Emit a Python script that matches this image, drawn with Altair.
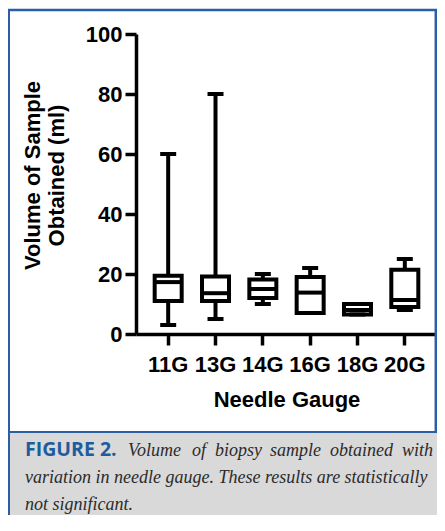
import altair as alt
import pandas as pd

# ---- data ----
gauges = ["11G", "13G", "14G", "16G", "18G", "20G"]
whisker_min = [3, 5, 10, 7, 6.5, 8]
q1 = [11, 11, 12, 7, 6.5, 9]
median = [17.3, 13.6, 15, 13.8, 8, 11.3]
q3 = [19.4, 19.2, 18.2, 19, 10, 21.4]
whisker_max = [60, 80, 20, 22, 10, 25]

y_ticks = [0, 20, 40, 60, 80, 100]
y_title = ["Volume of Sample", "Obtained (ml)"]
x_title = "Needle Gauge"
caption_label = "FIGURE 2."
caption_line1_words = ["Volume", "of", "biopsy", "sample", "obtained", "with"]
caption_line1_x = [128, 192, 215, 270, 330, 402]  # justified word starts (page px)
caption_line2 = "variation in needle gauge. These results are statistically"
caption_line3 = "not significant."

df = pd.DataFrame({
    "gauge": gauges,
    "lo": whisker_min,
    "q1": q1,
    "med": median,
    "q3": q3,
    "hi": whisker_max,
})
dec = pd.DataFrame({"k": [0]})

PW, PH = 301, 300
TOTAL_W, TOTAL_H = 429, 507
BLUE = "#2a5fa5"
FONT = "Liberation Sans"

x_scale = alt.Scale(domain=gauges, paddingInner=0.3, paddingOuter=0.33)
y_scale = alt.Scale(domain=[0, 100], nice=False)

x_axis = alt.Axis(title=x_title, labelAngle=0, tickSize=11, labelPadding=9,
                  titlePadding=14)
y_axis = alt.Axis(title=y_title, values=y_ticks, grid=False, tickSize=11,
                  labelPadding=3, titleX=-92, titleY=141, titleLineHeight=24,
                  titleAngle=270, titleBaseline="bottom", titleAlign="center")


def X():
    return alt.X("gauge:N", scale=x_scale, sort=gauges, axis=x_axis)


def Y(field):
    return alt.Y(field, type="quantitative", scale=y_scale, axis=y_axis)


whisker = alt.Chart(df).mark_rule(color="black", strokeWidth=4).encode(
    x=X(), y=Y("lo"), y2="hi:Q")
box = alt.Chart(df).mark_bar(fill="white", stroke="black", strokeWidth=4,
                             size=27).encode(x=X(), y=Y("q1"), y2="q3:Q")
med = alt.Chart(df).mark_tick(color="black", thickness=4, size=27,
                              opacity=1).encode(x=X(), y=Y("med"))
cap_lo = alt.Chart(df).mark_tick(color="black", thickness=4, size=16,
                                 opacity=1).encode(x=X(), y=Y("lo"))
cap_hi = alt.Chart(df).mark_tick(color="black", thickness=4, size=16,
                                 opacity=1).encode(x=X(), y=Y("hi"))

# ---- frame & caption decorations (positions relative to plot origin) ----
ox, oy = 136, 34  # plot origin on the page
gray = alt.Chart(dec).mark_rect(color="#d9d9d9").encode(
    x=alt.value(7 - ox), x2=alt.value(450 - ox),
    y=alt.value(433 - oy), y2=alt.value(540 - oy))
top_line = alt.Chart(dec).mark_rule(color=BLUE, strokeWidth=2.5).encode(
    x=alt.value(7 - ox), x2=alt.value(450 - ox), y=alt.value(10 - oy))
div_line = alt.Chart(dec).mark_rule(color=BLUE, strokeWidth=2).encode(
    x=alt.value(7 - ox), x2=alt.value(450 - ox), y=alt.value(432 - oy))
left_line = alt.Chart(dec).mark_rule(color=BLUE, strokeWidth=3).encode(
    x=alt.value(8.5 - ox), y=alt.value(9 - oy), y2=alt.value(540 - oy))
right_line = alt.Chart(dec).mark_rule(color=BLUE, strokeWidth=2.5).encode(
    x=alt.value(435.8 - ox), y=alt.value(9 - oy), y2=alt.value(432 - oy))


def cap_text(txt, px, py, align="left", **kw):
    style = dict(font="Liberation Serif", fontStyle="italic", fontSize=18,
                 color="#2b2b2b")
    style.update(kw)
    return alt.Chart(dec).mark_text(text=txt, align=align,
                                    baseline="alphabetic", **style).encode(
        x=alt.value(px - ox), y=alt.value(py - oy))


L1, L2, L3 = 456, 483, 510
texts = [cap_text(caption_label, 25, L1, font="Open Sans", fontStyle="normal",
                  fontWeight="bold", fontSize=19.5, color="#1d5c9e")]
texts += [cap_text(w, px, L1) for w, px in zip(caption_line1_words,
                                               caption_line1_x)]
texts += [cap_text(caption_line2, 25, L2), cap_text(caption_line3, 25, L3)]

chart = alt.layer(
    gray, top_line, div_line, left_line, right_line,
    whisker, box, med, cap_lo, cap_hi,
    *texts,
).properties(
    width=PW, height=PH,
    padding={"left": 128, "top": 26, "right": TOTAL_W - 128 - PW,
             "bottom": TOTAL_H - 26 - PH},
    autosize=alt.AutoSizeParams(type="none"),
).configure_view(stroke=None).configure_axis(
    domainColor="black", domainWidth=3.5, tickColor="black", tickWidth=3.5,
    labelFont=FONT, labelFontSize=22, labelFontWeight="bold",
    labelColor="black", titleFont=FONT, titleFontSize=22,
    titleFontWeight="bold", titleColor="black",
)

chart.save("out.html", embed_options={"renderer": "svg", "actions": False})
